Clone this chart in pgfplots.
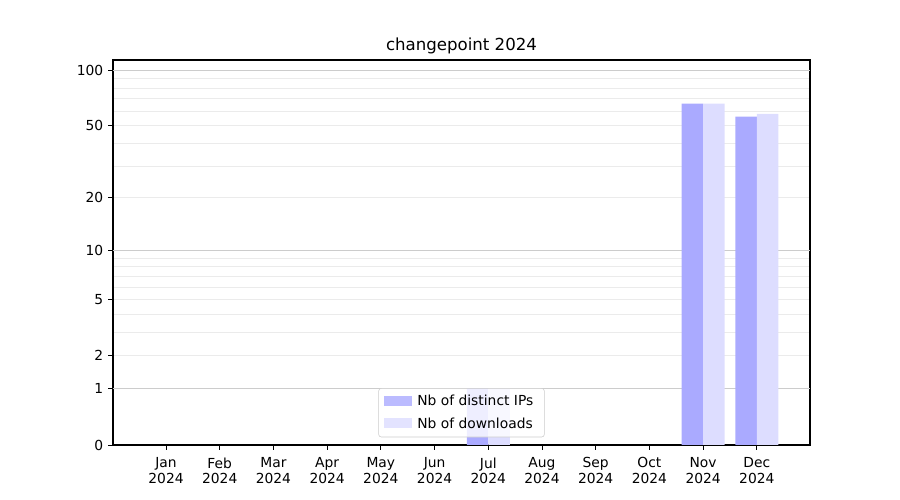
\documentclass[border=0pt]{standalone}
\usepackage{pgfplots}
\pgfplotsset{compat=1.18}
\usepackage{fontspec}
\setmainfont{DejaVu Sans}
\definecolor{ipcol}{RGB}{170,170,255}
\definecolor{dlcol}{RGB}{221,221,255}
\definecolor{majgrid}{RGB}{204,204,204}
\definecolor{mingrid}{RGB}{235,235,235}
\begin{document}
\begin{tikzpicture}
\useasboundingbox (-81.36bp,-39.6bp) rectangle (566.64bp,320.4bp);
\begin{axis}[
  at={(0,0)}, anchor=south west,
  scale only axis, width=501.84bp, height=277.2bp,
  font=\fontsize{10}{12}\selectfont,
  /pgf/number format/assume math mode=true,
  y coord trafo/.code={\pgfmathparse{log10(#1+1)}},
  y coord inv trafo/.code={\pgfmathparse{10^(#1)-1}},
  ymin=0, ymax=113.5,
  xmin=-0.987, xmax=11.99,
  ytick={0,1,2,5,10,20,50,100},
  yticklabels={0,1,2,5,10,20,50,100},
  minor ytick={2,3,4,5,6,7,8,9,20,30,40,50,60,70,80,90},
  yminorgrids=true,
  minor grid style={mingrid, line width=0.6pt},
  minor tick length=0pt,
  extra y ticks={1,10,100},
  extra y tick labels={},
  extra y tick style={grid=major, major grid style={majgrid, line width=0.8pt}, major tick length=0pt},
  xtick={0,1,2,3,4,5,6,7,8,9,10,11},
  xticklabels={Jan\\2024,Feb\\2024,Mar\\2024,Apr\\2024,May\\2024,Jun\\2024,Jul\\2024,Aug\\2024,Sep\\2024,Oct\\2024,Nov\\2024,Dec\\2024},
  xticklabel style={align=center, font=\fontsize{10}{11.5}\selectfont, yshift=-2pt},
  xtick pos=bottom, ytick pos=left,
  tick align=outside,
  major tick length=3.5pt,
  tick style={black, line width=0.6pt},
  axis line style={line width=0.8pt},
  title={changepoint 2024},
  title style={font=\fontsize{12}{14}\selectfont, yshift=-5.5bp},
  legend style={at={(0.5,0.02)}, anchor=south, fill=white, fill opacity=0.8, text opacity=1,
    draw=majgrid, rounded corners=2pt, font=\fontsize{10}{12}\selectfont, row sep=3pt,
    inner xsep=4pt, inner ysep=3pt,
    nodes={inner xsep=4pt}},
  legend cell align=left,
  legend image code/.code={\fill[#1, sharp corners] (-2pt,-3pt) rectangle (18pt,4pt);},
]
\addplot[ybar, bar width=0.4, bar shift=-0.2, fill=ipcol, draw=none] coordinates {
(0,0) (1,0) (2,0) (3,0) (4,0) (5,0) (6,1) (7,0) (8,0) (9,0) (10,66) (11,56)};
\addlegendentry{Nb of distinct IPs}
\addplot[ybar, bar width=0.4, bar shift=0.2, fill=dlcol, draw=none] coordinates {
(0,0) (1,0) (2,0) (3,0) (4,0) (5,0) (6,1) (7,0) (8,0) (9,0) (10,66) (11,58)};
\addlegendentry{Nb of downloads}
\end{axis}
\end{tikzpicture}
\end{document}
